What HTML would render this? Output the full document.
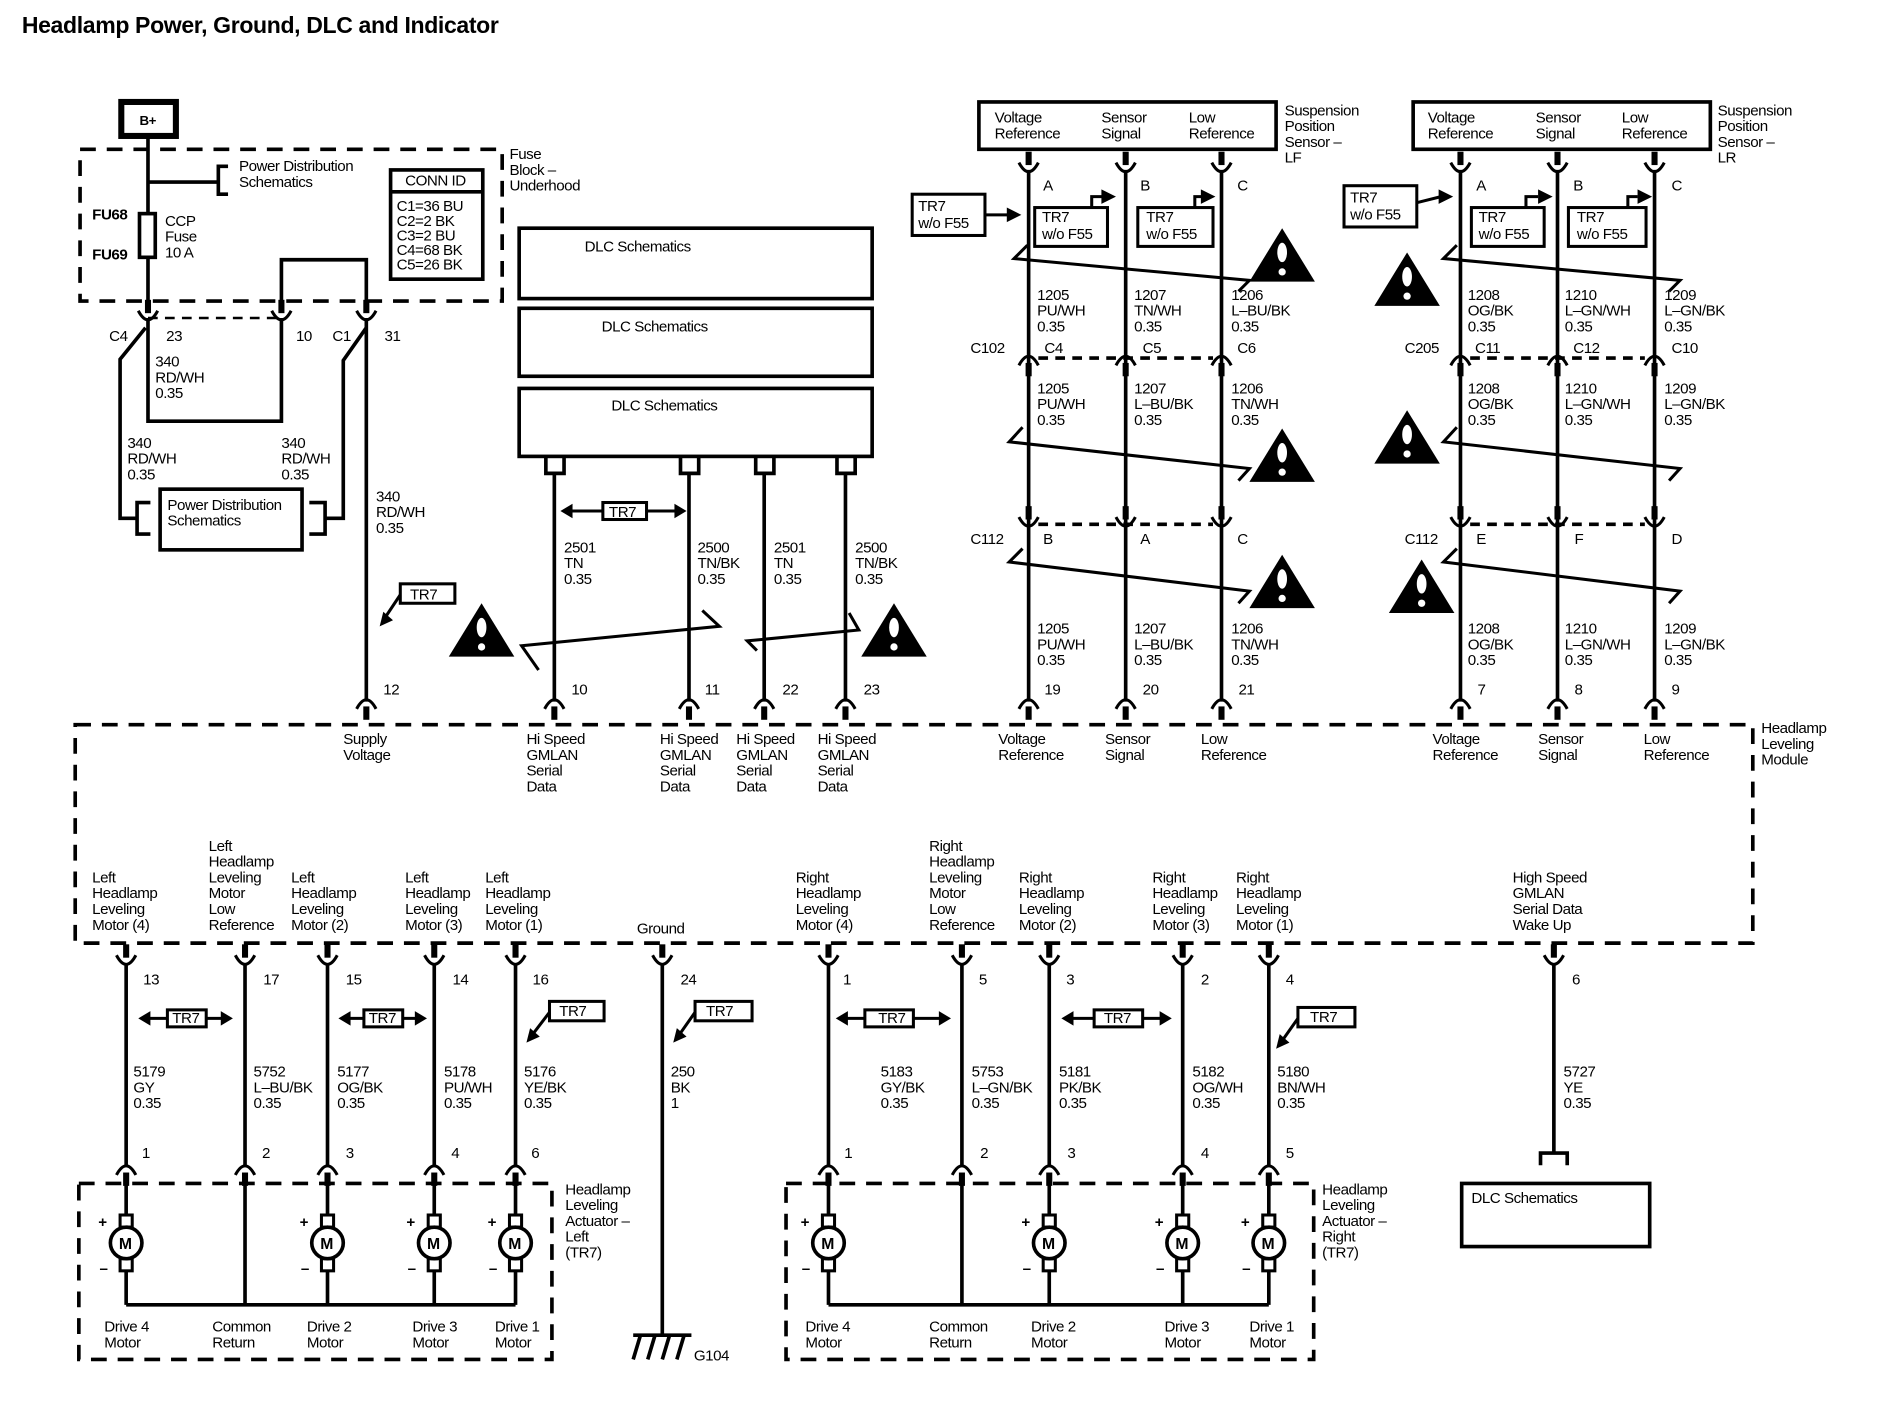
<!DOCTYPE html>
<html><head><meta charset="utf-8"><style>
html,body{margin:0;padding:0;background:#fff;}
svg{display:block}
text{font-family:"Liberation Sans",sans-serif;font-size:12.5px;letter-spacing:-0.4px;fill:#000}
.b{font-weight:bold}
</style></head><body>
<svg width="1902" height="1408" viewBox="0 0 1568 1160" preserveAspectRatio="none" xmlns="http://www.w3.org/2000/svg">
<defs>
<g id="U"><rect x="-2.5" y="-15" width="5" height="11"/><path d="M-8 -6 Q0 9 8 -6" fill="none" stroke="#000" stroke-width="2.5"/></g>
<g id="N"><rect x="-2.5" y="4" width="5" height="11"/><path d="M-8 6 Q0 -9 8 6" fill="none" stroke="#000" stroke-width="2.5"/></g>
<g id="W"><polygon points="0,0 27,44 -27,44" fill="#000"/><ellipse cx="0" cy="20" rx="4" ry="8" fill="#fff"/><circle cx="0" cy="36" r="3" fill="#fff"/></g>
<g id="MOT"><rect x="-5" y="-23" width="10" height="10" fill="#fff" stroke="#000" stroke-width="2.5"/><rect x="-5" y="13" width="10" height="10" fill="#fff" stroke="#000" stroke-width="2.5"/><circle r="13" fill="#fff" stroke="#000" stroke-width="3"/><text x="-6" y="5" class="b" style="font-size:13px">M</text><text x="-23" y="-13" class="b">+</text><text x="-22" y="25" class="b">–</text></g>
</defs>
<g stroke="#000" stroke-width="3" fill="none">
<rect x="100" y="84" width="45" height="28" stroke-width="5"/>
<rect x="66" y="123" width="348" height="125" stroke-dasharray="13,9"/>
<line x1="122" y1="112" x2="122" y2="248"/>
<line x1="122" y1="150" x2="180" y2="150"/>
<path d="M188 137 H180 V160 H188"/>
<rect x="115" y="176" width="13" height="36" fill="#fff"/>
<rect x="322" y="140" width="76" height="90"/>
<line x1="322" y1="158" x2="398" y2="158"/>
<path d="M232 248 V214 H302 V248"/>
<line x1="122" y1="262" x2="232" y2="262" stroke-dasharray="8,6" stroke-width="2"/>
<path d="M122 262 V347 H232 V262"/>
<path d="M120 270 L99 296 V427 H113"/>
<path d="M124 414 H113 V440 H124"/>
<rect x="132" y="403" width="117" height="50"/>
<path d="M255 414 H268 V440 H255"/>
<path d="M268 427 H283 V297 L302 270"/>
<line x1="302" y1="262" x2="302" y2="578"/>
<rect x="330" y="481" width="45" height="16" stroke-width="2.5"/>
<line x1="330" y1="490" x2="318" y2="508" stroke-width="2.5"/>
<rect x="428" y="188" width="291" height="58"/>
<rect x="428" y="254" width="291" height="56"/>
<rect x="428" y="320" width="291" height="56"/>
<path d="M450 377 V390 H465 V377 M561 377 V390 H576 V377 M623 377 V390 H638 V377 M690 377 V390 H705 V377"/>
<path d="M457 390 V578 M568 390 V578 M630 390 V578 M697 390 V578"/>
<rect x="497" y="414" width="36" height="14" stroke-width="2.5"/>
<path d="M497 421 H470 M533 421 H558" stroke-width="2.5"/>
<path d="M444 552 L430 532 L593 516 L579 503" stroke-width="2.5"/>
<path d="M624 536 L616 528 L708 519 L700 505" stroke-width="2.5"/>
<rect x="62" y="597" width="1383" height="180" stroke-dasharray="13,9"/>
<rect x="807" y="84" width="245" height="39"/>
<path d="M848 140 V578 M928 140 V578 M1007 140 V578"/>
<line x1="856" y1="295" x2="1000" y2="295" stroke-dasharray="8,6"/>
<rect x="752" y="160" width="60" height="34" stroke-width="2.5"/>
<line x1="812" y1="177" x2="832" y2="177" stroke-width="2.5"/>
<rect x="853" y="171" width="60" height="32" stroke-width="2.5"/>
<rect x="938" y="171" width="62" height="32" stroke-width="2.5"/>
<path d="M900 171 V162 H910 M985 171 V162 H992" stroke-width="2.5"/>
<path d="M847 202 L836 213 L1030 231 L1021 240" stroke-width="2.5"/>
<path d="M843 352 L832 364 L1030 386 L1021 396" stroke-width="2.5"/>
<path d="M843 452 L832 463 L1030 487 L1021 497" stroke-width="2.5"/>
<line x1="856" y1="432" x2="1000" y2="432" stroke-dasharray="8,6"/>
<rect x="1165" y="84" width="245" height="39"/>
<path d="M1204 140 V578 M1284 140 V578 M1364 140 V578"/>
<line x1="1212" y1="295" x2="1356" y2="295" stroke-dasharray="8,6"/>
<line x1="1212" y1="432" x2="1356" y2="432" stroke-dasharray="8,6"/>
<rect x="1108" y="153" width="60" height="34" stroke-width="2.5"/>
<line x1="1168" y1="167" x2="1188" y2="162" stroke-width="2.5"/>
<rect x="1213" y="171" width="60" height="32" stroke-width="2.5"/>
<rect x="1293" y="171" width="64" height="32" stroke-width="2.5"/>
<path d="M1258 171 V162 H1268 M1342 171 V162 H1350" stroke-width="2.5"/>
<path d="M1201 202 L1190 213 L1385 231 L1376 240" stroke-width="2.5"/>
<path d="M1201 352 L1190 364 L1385 386 L1376 396" stroke-width="2.5"/>
<path d="M1201 452 L1190 463 L1385 487 L1376 497" stroke-width="2.5"/>
<path d="M104 795 V960 M202 795 V960 M270 795 V960 M358 795 V960 M425 795 V960 M546 795 V1100 M683 795 V960 M793 795 V960 M865 795 V960 M975 795 V960 M1046 795 V960 M1281 795 V950"/>
<path d="M1270 960 V950 H1292 V960"/>
<rect x="1205" y="975" width="155" height="52"/>
<rect x="65" y="975" width="390" height="145" stroke-dasharray="13,9"/>
<rect x="648" y="975" width="435" height="145" stroke-dasharray="13,9"/>
<path d="M104 975 V1075 M202 975 V1075 M270 975 V1075 M358 975 V1075 M425 975 V1075 M104 1075 H425"/>
<path d="M683 975 V1075 M793 975 V1075 M865 975 V1075 M975 975 V1075 M1046 975 V1075 M683 1075 H1046"/>
<path d="M522 1100 H570 M528 1100 L522 1120 M540 1100 L534 1120 M552 1100 L546 1120 M564 1100 L558 1120"/>
<rect x="138" y="832" width="32" height="14" stroke-width="2.5"/><path d="M138 839 H122 M170 839 H184" stroke-width="2.5"/>
<rect x="300" y="832" width="32" height="14" stroke-width="2.5"/><path d="M300 839 H288 M332 839 H344" stroke-width="2.5"/>
<rect x="713" y="832" width="40" height="14" stroke-width="2.5"/><path d="M713 839 H697 M753 839 H776" stroke-width="2.5"/>
<rect x="902" y="832" width="40" height="14" stroke-width="2.5"/><path d="M902 839 H884 M942 839 H958" stroke-width="2.5"/>
<rect x="453" y="825" width="45" height="16" stroke-width="2.5"/><line x1="453" y1="834" x2="440" y2="851" stroke-width="2.5"/>
<rect x="573" y="825" width="47" height="16" stroke-width="2.5"/><line x1="573" y1="834" x2="561" y2="851" stroke-width="2.5"/>
<rect x="1070" y="830" width="47" height="16" stroke-width="2.5"/><line x1="1070" y1="839" x2="1058" y2="856" stroke-width="2.5"/>
</g>
<g fill="#000">
<polygon points="313,516 316,504 324,511"/>
<polygon points="462,421 472,415 472,427"/><polygon points="566,421 556,415 556,427"/>
<polygon points="842,177 830,171 830,183"/>
<polygon points="920,162 908,156 908,168"/><polygon points="1002,162 990,156 990,168"/>
<polygon points="1198,162 1186,156 1186,168"/>
<polygon points="1280,162 1268,156 1268,168"/><polygon points="1362,162 1350,156 1350,168"/>
<polygon points="114,839 124,833 124,845"/><polygon points="192,839 182,833 182,845"/>
<polygon points="279,839 289,833 289,845"/><polygon points="352,839 342,833 342,845"/>
<polygon points="689,839 699,833 699,845"/><polygon points="784,839 774,833 774,845"/>
<polygon points="875,839 885,833 885,845"/><polygon points="966,839 956,833 956,845"/>
<polygon points="434,859 437,847 445,854"/><polygon points="555,859 558,847 566,854"/><polygon points="1052,864 1055,852 1063,859"/>
</g>
<use href="#U" x="122" y="262"/><use href="#U" x="232" y="262"/><use href="#U" x="302" y="262"/>
<use href="#N" x="302" y="578"/><use href="#N" x="457" y="578"/><use href="#N" x="568" y="578"/><use href="#N" x="630" y="578"/><use href="#N" x="697" y="578"/>
<use href="#N" x="848" y="578"/><use href="#N" x="928" y="578"/><use href="#N" x="1007" y="578"/>
<use href="#N" x="1204" y="578"/><use href="#N" x="1284" y="578"/><use href="#N" x="1364" y="578"/>
<use href="#U" x="848" y="140"/><use href="#U" x="928" y="140"/><use href="#U" x="1007" y="140"/>
<use href="#U" x="1204" y="140"/><use href="#U" x="1284" y="140"/><use href="#U" x="1364" y="140"/>
<use href="#N" x="848" y="295"/><use href="#N" x="928" y="295"/><use href="#N" x="1007" y="295"/>
<use href="#N" x="1204" y="295"/><use href="#N" x="1284" y="295"/><use href="#N" x="1364" y="295"/>
<use href="#U" x="848" y="432"/><use href="#U" x="928" y="432"/><use href="#U" x="1007" y="432"/>
<use href="#U" x="1204" y="432"/><use href="#U" x="1284" y="432"/><use href="#U" x="1364" y="432"/>
<use href="#U" x="104" y="793"/><use href="#U" x="202" y="793"/><use href="#U" x="270" y="793"/><use href="#U" x="358" y="793"/><use href="#U" x="425" y="793"/><use href="#U" x="546" y="793"/>
<use href="#U" x="683" y="793"/><use href="#U" x="793" y="793"/><use href="#U" x="865" y="793"/><use href="#U" x="975" y="793"/><use href="#U" x="1046" y="793"/><use href="#U" x="1281" y="793"/>
<use href="#N" x="104" y="962"/><use href="#N" x="202" y="962"/><use href="#N" x="270" y="962"/><use href="#N" x="358" y="962"/><use href="#N" x="425" y="962"/>
<use href="#N" x="683" y="962"/><use href="#N" x="793" y="962"/><use href="#N" x="865" y="962"/><use href="#N" x="975" y="962"/><use href="#N" x="1046" y="962"/>
<use href="#MOT" x="104" y="1024"/><use href="#MOT" x="270" y="1024"/><use href="#MOT" x="358" y="1024"/><use href="#MOT" x="425" y="1024"/>
<use href="#MOT" x="683" y="1024"/><use href="#MOT" x="865" y="1024"/><use href="#MOT" x="975" y="1024"/><use href="#MOT" x="1046" y="1024"/>
<use href="#W" x="397" y="497"/><use href="#W" x="737" y="497"/>
<use href="#W" x="1057" y="188"/><use href="#W" x="1057" y="353"/><use href="#W" x="1057" y="457"/>
<use href="#W" x="1160" y="208"/><use href="#W" x="1160" y="338"/><use href="#W" x="1172" y="461"/>
<text x="18" y="27" class="b" style="font-size:19px;letter-spacing:-0.3px">Headlamp Power, Ground, DLC and Indicator</text>
<text x="115" y="103" class="b" style="font-size:11px">B+</text>
<text x="197" y="141">Power Distribution</text><text x="197" y="154">Schematics</text>
<text x="420" y="131">Fuse</text><text x="420" y="144">Block –</text><text x="420" y="157">Underhood</text>
<text x="334" y="153">CONN ID</text>
<text x="327" y="174">C1=36 BU</text><text x="327" y="186">C2=2 BK</text><text x="327" y="198">C3=2 BU</text><text x="327" y="210">C4=68 BK</text><text x="327" y="222">C5=26 BK</text>
<text x="76" y="181" class="b">FU68</text><text x="76" y="214" class="b">FU69</text>
<text x="136" y="186">CCP</text><text x="136" y="199">Fuse</text><text x="136" y="212">10 A</text>
<text x="90" y="281">C4</text><text x="137" y="281">23</text><text x="244" y="281">10</text><text x="274" y="281">C1</text><text x="317" y="281">31</text>
<text x="128" y="302">340</text><text x="128" y="315">RD/WH</text><text x="128" y="328">0.35</text>
<text x="105" y="369">340</text><text x="105" y="382">RD/WH</text><text x="105" y="395">0.35</text>
<text x="232" y="369">340</text><text x="232" y="382">RD/WH</text><text x="232" y="395">0.35</text>
<text x="138" y="420">Power Distribution</text><text x="138" y="433">Schematics</text>
<text x="310" y="413">340</text><text x="310" y="426">RD/WH</text><text x="310" y="439">0.35</text>
<text x="338" y="494">TR7</text>
<text x="482" y="207">DLC Schematics</text><text x="496" y="273">DLC Schematics</text><text x="504" y="338">DLC Schematics</text>
<text x="502" y="426">TR7</text>
<text x="465" y="455">2501</text><text x="465" y="468">TN</text><text x="465" y="481">0.35</text>
<text x="575" y="455">2500</text><text x="575" y="468">TN/BK</text><text x="575" y="481">0.35</text>
<text x="638" y="455">2501</text><text x="638" y="468">TN</text><text x="638" y="481">0.35</text>
<text x="705" y="455">2500</text><text x="705" y="468">TN/BK</text><text x="705" y="481">0.35</text>
<text x="316" y="572">12</text><text x="471" y="572">10</text><text x="581" y="572">11</text><text x="645" y="572">22</text><text x="712" y="572">23</text>
<text x="861" y="572">19</text><text x="942" y="572">20</text><text x="1021" y="572">21</text>
<text x="1218" y="572">7</text><text x="1298" y="572">8</text><text x="1378" y="572">9</text>
<text x="283" y="613">Supply</text><text x="283" y="626">Voltage</text>
<text x="434" y="613">Hi Speed</text><text x="434" y="626">GMLAN</text><text x="434" y="639">Serial</text><text x="434" y="652">Data</text>
<text x="544" y="613">Hi Speed</text><text x="544" y="626">GMLAN</text><text x="544" y="639">Serial</text><text x="544" y="652">Data</text>
<text x="607" y="613">Hi Speed</text><text x="607" y="626">GMLAN</text><text x="607" y="639">Serial</text><text x="607" y="652">Data</text>
<text x="674" y="613">Hi Speed</text><text x="674" y="626">GMLAN</text><text x="674" y="639">Serial</text><text x="674" y="652">Data</text>
<text x="823" y="613">Voltage</text><text x="823" y="626">Reference</text>
<text x="911" y="613">Sensor</text><text x="911" y="626">Signal</text>
<text x="990" y="613">Low</text><text x="990" y="626">Reference</text>
<text x="1181" y="613">Voltage</text><text x="1181" y="626">Reference</text>
<text x="1268" y="613">Sensor</text><text x="1268" y="626">Signal</text>
<text x="1355" y="613">Low</text><text x="1355" y="626">Reference</text>
<text x="1452" y="604">Headlamp</text><text x="1452" y="617">Leveling</text><text x="1452" y="630">Module</text>
<text x="820" y="101">Voltage</text><text x="820" y="114">Reference</text>
<text x="908" y="101">Sensor</text><text x="908" y="114">Signal</text>
<text x="980" y="101">Low</text><text x="980" y="114">Reference</text>
<text x="1059" y="95">Suspension</text><text x="1059" y="108">Position</text><text x="1059" y="121">Sensor –</text><text x="1059" y="134">LF</text>
<text x="1177" y="101">Voltage</text><text x="1177" y="114">Reference</text>
<text x="1266" y="101">Sensor</text><text x="1266" y="114">Signal</text>
<text x="1337" y="101">Low</text><text x="1337" y="114">Reference</text>
<text x="1416" y="95">Suspension</text><text x="1416" y="108">Position</text><text x="1416" y="121">Sensor –</text><text x="1416" y="134">LR</text>
<text x="757" y="174">TR7</text><text x="757" y="188">w/o F55</text>
<text x="859" y="183">TR7</text><text x="859" y="197">w/o F55</text>
<text x="945" y="183">TR7</text><text x="945" y="197">w/o F55</text>
<text x="1113" y="167">TR7</text><text x="1113" y="181">w/o F55</text>
<text x="1219" y="183">TR7</text><text x="1219" y="197">w/o F55</text>
<text x="1300" y="183">TR7</text><text x="1300" y="197">w/o F55</text>
<text x="860" y="157">A</text><text x="940" y="157">B</text><text x="1020" y="157">C</text>
<text x="1217" y="157">A</text><text x="1297" y="157">B</text><text x="1378" y="157">C</text>
<text x="855" y="247">1205</text><text x="855" y="260">PU/WH</text><text x="855" y="273">0.35</text>
<text x="935" y="247">1207</text><text x="935" y="260">TN/WH</text><text x="935" y="273">0.35</text>
<text x="1015" y="247">1206</text><text x="1015" y="260">L–BU/BK</text><text x="1015" y="273">0.35</text>
<text x="800" y="291">C102</text><text x="861" y="291">C4</text><text x="942" y="291">C5</text><text x="1020" y="291">C6</text>
<text x="855" y="324">1205</text><text x="855" y="337">PU/WH</text><text x="855" y="350">0.35</text>
<text x="935" y="324">1207</text><text x="935" y="337">L–BU/BK</text><text x="935" y="350">0.35</text>
<text x="1015" y="324">1206</text><text x="1015" y="337">TN/WH</text><text x="1015" y="350">0.35</text>
<text x="800" y="448">C112</text><text x="860" y="448">B</text><text x="940" y="448">A</text><text x="1020" y="448">C</text>
<text x="855" y="522">1205</text><text x="855" y="535">PU/WH</text><text x="855" y="548">0.35</text>
<text x="935" y="522">1207</text><text x="935" y="535">L–BU/BK</text><text x="935" y="548">0.35</text>
<text x="1015" y="522">1206</text><text x="1015" y="535">TN/WH</text><text x="1015" y="548">0.35</text>
<text x="1210" y="247">1208</text><text x="1210" y="260">OG/BK</text><text x="1210" y="273">0.35</text>
<text x="1290" y="247">1210</text><text x="1290" y="260">L–GN/WH</text><text x="1290" y="273">0.35</text>
<text x="1372" y="247">1209</text><text x="1372" y="260">L–GN/BK</text><text x="1372" y="273">0.35</text>
<text x="1158" y="291">C205</text><text x="1216" y="291">C11</text><text x="1297" y="291">C12</text><text x="1378" y="291">C10</text>
<text x="1210" y="324">1208</text><text x="1210" y="337">OG/BK</text><text x="1210" y="350">0.35</text>
<text x="1290" y="324">1210</text><text x="1290" y="337">L–GN/WH</text><text x="1290" y="350">0.35</text>
<text x="1372" y="324">1209</text><text x="1372" y="337">L–GN/BK</text><text x="1372" y="350">0.35</text>
<text x="1158" y="448">C112</text><text x="1217" y="448">E</text><text x="1298" y="448">F</text><text x="1378" y="448">D</text>
<text x="1210" y="522">1208</text><text x="1210" y="535">OG/BK</text><text x="1210" y="548">0.35</text>
<text x="1290" y="522">1210</text><text x="1290" y="535">L–GN/WH</text><text x="1290" y="548">0.35</text>
<text x="1372" y="522">1209</text><text x="1372" y="535">L–GN/BK</text><text x="1372" y="548">0.35</text>
<text x="76" y="727">Left</text><text x="76" y="740">Headlamp</text><text x="76" y="753">Leveling</text><text x="76" y="766">Motor (4)</text>
<text x="172" y="701">Left</text><text x="172" y="714">Headlamp</text><text x="172" y="727">Leveling</text><text x="172" y="740">Motor</text><text x="172" y="753">Low</text><text x="172" y="766">Reference</text>
<text x="240" y="727">Left</text><text x="240" y="740">Headlamp</text><text x="240" y="753">Leveling</text><text x="240" y="766">Motor (2)</text>
<text x="334" y="727">Left</text><text x="334" y="740">Headlamp</text><text x="334" y="753">Leveling</text><text x="334" y="766">Motor (3)</text>
<text x="400" y="727">Left</text><text x="400" y="740">Headlamp</text><text x="400" y="753">Leveling</text><text x="400" y="766">Motor (1)</text>
<text x="525" y="769">Ground</text>
<text x="656" y="727">Right</text><text x="656" y="740">Headlamp</text><text x="656" y="753">Leveling</text><text x="656" y="766">Motor (4)</text>
<text x="766" y="701">Right</text><text x="766" y="714">Headlamp</text><text x="766" y="727">Leveling</text><text x="766" y="740">Motor</text><text x="766" y="753">Low</text><text x="766" y="766">Reference</text>
<text x="840" y="727">Right</text><text x="840" y="740">Headlamp</text><text x="840" y="753">Leveling</text><text x="840" y="766">Motor (2)</text>
<text x="950" y="727">Right</text><text x="950" y="740">Headlamp</text><text x="950" y="753">Leveling</text><text x="950" y="766">Motor (3)</text>
<text x="1019" y="727">Right</text><text x="1019" y="740">Headlamp</text><text x="1019" y="753">Leveling</text><text x="1019" y="766">Motor (1)</text>
<text x="1247" y="727">High Speed</text><text x="1247" y="740">GMLAN</text><text x="1247" y="753">Serial Data</text><text x="1247" y="766">Wake Up</text>
<text x="118" y="811">13</text><text x="217" y="811">17</text><text x="285" y="811">15</text><text x="373" y="811">14</text><text x="439" y="811">16</text><text x="561" y="811">24</text>
<text x="695" y="811">1</text><text x="807" y="811">5</text><text x="879" y="811">3</text><text x="990" y="811">2</text><text x="1060" y="811">4</text><text x="1296" y="811">6</text>
<text x="142" y="843">TR7</text><text x="304" y="843">TR7</text><text x="724" y="843">TR7</text><text x="910" y="843">TR7</text>
<text x="461" y="837">TR7</text><text x="582" y="837">TR7</text><text x="1080" y="842">TR7</text>
<text x="110" y="887">5179</text><text x="110" y="900">GY</text><text x="110" y="913">0.35</text>
<text x="209" y="887">5752</text><text x="209" y="900">L–BU/BK</text><text x="209" y="913">0.35</text>
<text x="278" y="887">5177</text><text x="278" y="900">OG/BK</text><text x="278" y="913">0.35</text>
<text x="366" y="887">5178</text><text x="366" y="900">PU/WH</text><text x="366" y="913">0.35</text>
<text x="432" y="887">5176</text><text x="432" y="900">YE/BK</text><text x="432" y="913">0.35</text>
<text x="553" y="887">250</text><text x="553" y="900">BK</text><text x="553" y="913">1</text>
<text x="726" y="887">5183</text><text x="726" y="900">GY/BK</text><text x="726" y="913">0.35</text>
<text x="801" y="887">5753</text><text x="801" y="900">L–GN/BK</text><text x="801" y="913">0.35</text>
<text x="873" y="887">5181</text><text x="873" y="900">PK/BK</text><text x="873" y="913">0.35</text>
<text x="983" y="887">5182</text><text x="983" y="900">OG/WH</text><text x="983" y="913">0.35</text>
<text x="1053" y="887">5180</text><text x="1053" y="900">BN/WH</text><text x="1053" y="913">0.35</text>
<text x="1289" y="887">5727</text><text x="1289" y="900">YE</text><text x="1289" y="913">0.35</text>
<text x="117" y="954">1</text><text x="216" y="954">2</text><text x="285" y="954">3</text><text x="372" y="954">4</text><text x="438" y="954">6</text>
<text x="696" y="954">1</text><text x="808" y="954">2</text><text x="880" y="954">3</text><text x="990" y="954">4</text><text x="1060" y="954">5</text>
<text x="466" y="984">Headlamp</text><text x="466" y="997">Leveling</text><text x="466" y="1010">Actuator –</text><text x="466" y="1023">Left</text><text x="466" y="1036">(TR7)</text>
<text x="1090" y="984">Headlamp</text><text x="1090" y="997">Leveling</text><text x="1090" y="1010">Actuator –</text><text x="1090" y="1023">Right</text><text x="1090" y="1036">(TR7)</text>
<text x="1213" y="991">DLC Schematics</text>
<text x="86" y="1097">Drive 4</text><text x="86" y="1110">Motor</text>
<text x="175" y="1097">Common</text><text x="175" y="1110">Return</text>
<text x="253" y="1097">Drive 2</text><text x="253" y="1110">Motor</text>
<text x="340" y="1097">Drive 3</text><text x="340" y="1110">Motor</text>
<text x="408" y="1097">Drive 1</text><text x="408" y="1110">Motor</text>
<text x="664" y="1097">Drive 4</text><text x="664" y="1110">Motor</text>
<text x="766" y="1097">Common</text><text x="766" y="1110">Return</text>
<text x="850" y="1097">Drive 2</text><text x="850" y="1110">Motor</text>
<text x="960" y="1097">Drive 3</text><text x="960" y="1110">Motor</text>
<text x="1030" y="1097">Drive 1</text><text x="1030" y="1110">Motor</text>
<text x="572" y="1121">G104</text>
</svg>
</body></html>
